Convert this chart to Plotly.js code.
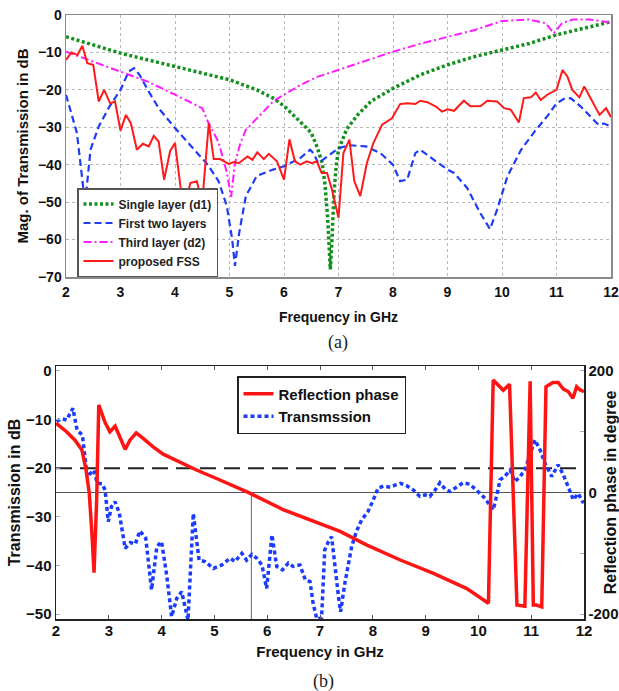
<!DOCTYPE html>
<html>
<head>
<meta charset="utf-8">
<script src="https://cdn.plot.ly/plotly-3.0.1.min.js"></script>
<style>html,body{margin:0;padding:0;background:#fff;}#chart{width:619px;height:691px;}</style>
</head>
<body>
<div id="chart"></div>
<script>
// ---------- (a) Magnitude of transmission ----------
const freqSingle = [2, 2.5, 3, 3.5, 4, 4.5, 5, 5.5, 5.8, 6, 6.2, 6.4, 6.5, 6.6, 6.7, 6.75, 6.8, 6.85, 6.88, 6.92, 6.96, 7.0, 7.15, 7.35, 7.6, 8, 8.5, 9, 9.5, 10, 10.5, 11, 11.5, 12];
const singleLayer = [-5.8, -8.0, -10.2, -12.0, -13.8, -15.6, -17.3, -20.0, -22.2, -24.3, -27.0, -30.0, -31.5, -35.0, -39.5, -45, -54, -68, -60, -47, -40, -36, -30.5, -26.7, -23, -19.6, -16, -13.3, -11.1, -9.3, -7.6, -5.3, -3.6, -1.8];

const freqTwo = [2, 2.2, 2.35, 2.45, 2.6, 2.8, 3.0, 3.15, 3.25, 3.35, 3.5, 3.7, 4.0, 4.3, 4.6, 4.8, 4.95, 5.05, 5.1, 5.18, 5.3, 5.5, 5.8, 6, 6.3, 6.48, 6.54, 6.63, 6.79, 7, 7.2, 7.5, 7.77, 8, 8.13, 8.26, 8.41, 8.5, 8.75, 9, 9.12, 9.36, 9.6, 9.78, 9.91, 10.1, 10.35, 10.6, 10.85, 11, 11.14, 11.26, 11.44, 11.62, 11.77, 11.87, 12];
const twoLayers = [-21.3, -31.5, -50.4, -36, -29.8, -24.4, -20, -15.1, -14.2, -16, -20, -24.9, -30.2, -35.1, -40, -44.4, -51, -60, -67, -58, -48.4, -43, -41.3, -40.4, -38.2, -36, -36.9, -39.6, -37.8, -35.6, -34.8, -35.1, -36.9, -40, -44.4, -44, -36.9, -36, -38.7, -41.3, -42.2, -46.2, -52.9, -57.2, -52, -43.1, -36, -31.1, -26.7, -23.6, -22.4, -22.2, -24.4, -27.1, -29.3, -29, -29.8];

const freqThird = [2, 2.5, 3, 3.5, 4, 4.5, 4.6, 4.8, 4.95, 5.03, 5.1, 5.2, 5.3, 5.5, 5.8, 6, 6.3, 6.6, 7, 7.5, 8, 8.5, 9, 9.5, 10, 10.5, 10.8, 10.95, 11.1, 11.3, 11.6, 12];
const thirdLayer = [-9.8, -12.5, -15.1, -17.8, -21.3, -24.9, -28.4, -34, -42, -48.6, -39.6, -34.2, -30.7, -27.6, -23.1, -21.3, -18.7, -16.6, -14.7, -12.2, -9.8, -7.7, -5.8, -4, -1.6, -1.2, -2.2, -4.9, -2.2, -1.2, -1.2, -2];

const freqFSS = [2.0, 2.1, 2.21, 2.3, 2.39, 2.5, 2.6, 2.7, 2.81, 2.9, 3.0, 3.1, 3.19, 3.3, 3.41, 3.52, 3.61, 3.7, 3.8, 3.91, 4.0, 4.1, 4.19, 4.28, 4.4, 4.5, 4.62, 4.71, 4.83, 4.98, 5.08, 5.17, 5.33, 5.42, 5.51, 5.63, 5.72, 5.87, 6.0, 6.1, 6.2, 6.3, 6.42, 6.51, 6.6, 6.69, 6.79, 6.88, 7.0, 7.09, 7.2, 7.29, 7.4, 7.52, 7.64, 7.8, 7.98, 8.13, 8.26, 8.41, 8.5, 8.63, 8.78, 8.9, 9.0, 9.12, 9.3, 9.42, 9.61, 9.73, 9.91, 10.04, 10.16, 10.31, 10.4, 10.53, 10.62, 10.71, 10.83, 11.0, 11.11, 11.2, 11.29, 11.42, 11.51, 11.63, 11.79, 11.91, 12.0];
const proposedFSS = [-12, -10, -10.7, -8.2, -12.9, -13.3, -23.1, -20, -23.6, -23.1, -30.9, -26.7, -28.9, -36, -34.4, -35.1, -32.3, -33.8, -44, -36.4, -34.2, -45.8, -50.7, -44.9, -44.4, -50, -28.9, -38.5, -38.5, -39.8, -39.3, -39.6, -37.8, -38.7, -36.7, -38.5, -37.1, -39.1, -44, -33.2, -39.1, -40, -39.1, -39.6, -39.1, -42.2, -42.2, -46.7, -54.2, -36.9, -33.3, -44.4, -48.4, -39.6, -34.2, -29.3, -27.6, -23.8, -23.6, -23.8, -22.9, -23.3, -24.4, -25.8, -25.2, -25.6, -22.9, -24.4, -24.3, -22.9, -23.1, -24.9, -25.3, -28.7, -22.2, -22, -20.7, -22.7, -21.3, -20, -14.7, -16.4, -20, -22, -19.1, -22.2, -26.7, -24.9, -27.3];

// ---------- (b) Transmission and reflection phase ----------
const freqTrans = [2.01, 2.11, 2.2, 2.32, 2.4, 2.5, 2.59, 2.66, 2.72, 2.78, 2.87, 2.93, 2.99, 3.05, 3.12, 3.2, 3.31, 3.41, 3.5, 3.59, 3.7, 3.81, 3.91, 4.0, 4.1, 4.19, 4.29, 4.38, 4.5, 4.6, 4.71, 4.82, 4.98, 5.14, 5.3, 5.39, 5.52, 5.61, 5.71, 5.8, 5.9, 5.99, 6.09, 6.18, 6.29, 6.4, 6.49, 6.62, 6.72, 6.81, 6.87, 6.94, 7.03, 7.09, 7.16, 7.22, 7.28, 7.35, 7.39, 7.47, 7.6, 7.69, 7.79, 7.91, 8.01, 8.1, 8.2, 8.33, 8.42, 8.52, 8.64, 8.77, 8.89, 8.99, 9.08, 9.18, 9.27, 9.37, 9.46, 9.59, 9.71, 9.84, 9.97, 10.09, 10.19, 10.28, 10.35, 10.41, 10.5, 10.6, 10.69, 10.79, 10.88, 10.98, 11.07, 11.17, 11.26, 11.39, 11.51, 11.61, 11.7, 11.8, 11.89, 11.99];
const transmission = [-10.4, -9.8, -10.1, -7.7, -12.2, -13.2, -21.7, -21.1, -20.4, -23.1, -23.2, -24.5, -31, -27.9, -26.9, -29.3, -36.5, -35.3, -35.6, -32.9, -34.4, -45, -36.1, -35.1, -42.3, -50.5, -46.7, -45.4, -51.2, -29.3, -38.9, -39.2, -40.6, -39.9, -38.5, -39.2, -37.5, -38.9, -37.7, -38.5, -39.9, -44.7, -33.7, -40.2, -40.9, -39.5, -40.2, -39.9, -42.9, -43.3, -47.8, -51, -50.8, -36.8, -35.1, -34.1, -40.2, -46.4, -49.5, -43.7, -36.1, -33, -30.6, -28.9, -26.5, -24.1, -23.7, -23.9, -23.5, -23.1, -23.6, -24.5, -25.8, -25.5, -25.8, -24.5, -23, -24.3, -24.8, -23.8, -23, -23.3, -24.5, -25.8, -27.2, -28.6, -25.5, -22.4, -21.7, -20.4, -22.8, -21.7, -20.4, -17.3, -14.2, -16.3, -19, -21.7, -19.3, -21.4, -23.8, -26.5, -25.2, -27.2];

const freqPhase = [2.0, 2.2, 2.36, 2.49, 2.57, 2.63, 2.68, 2.72, 2.77, 2.81, 2.93, 3.02, 3.12, 3.21, 3.31, 3.4, 3.52, 3.65, 3.84, 4.03, 4.35, 4.66, 5.04, 5.67, 6.3, 6.97, 7.38, 7.88, 8.52, 9.15, 9.78, 10.19, 10.28, 10.47, 10.59, 10.73, 10.88, 10.98, 11.04, 11.1, 11.2, 11.28, 11.41, 11.51, 11.61, 11.7, 11.79, 11.86, 11.92, 12.0];
const reflectionPhase = [114, 100, 86, 70, 37, -1, -67, -132, -12, 144, 115, 100, 109, 92, 71, 86, 98, 89, 75, 63, 49, 37, 23, -1, -28, -51, -64, -86, -111, -133, -158, -182, 185, 168, 178, -185, -187, 183, -185, -185, -188, 174, 181, 181, 170, 166, 155, 174, 169, 166];

// reference lines in (b)
const levelDashed = -20;      // dB, dashed threshold
const levelPhaseZero = -25;   // dB level where phase = 0
const markerFreq = 5.7;       // GHz, where phase crosses 0

const tickFreq = [2, 3, 4, 5, 6, 7, 8, 9, 10, 11, 12];
const tickMagA = [0, -10, -20, -30, -40, -50, -60, -70];
const tickMagB = [0, -10, -20, -30, -40, -50];
const tickPhase = [-200, -100, 0, 100, 200];
const tickPhaseText = ['-200', '', '0', '', '200'];

const W = 619, H = 691;
const FONT = 'Liberation Sans, Arial, sans-serif';
const SERIF = 'Liberation Serif, Times New Roman, serif';

const traces = [
  {x: freqSingle, y: singleLayer, name: 'Single layer (d1)', mode: 'lines', xaxis: 'x', yaxis: 'y',
   line: {color: '#14901e', width: 3.5, dash: '3px,2.5px'}, legend: 'legend'},
  {x: freqTwo, y: twoLayers, name: 'First two layers', mode: 'lines', xaxis: 'x', yaxis: 'y',
   line: {color: '#1f3cf5', width: 2.2, dash: '7px,4px'}, legend: 'legend'},
  {x: freqThird, y: thirdLayer, name: 'Third layer (d2)', mode: 'lines', xaxis: 'x', yaxis: 'y',
   line: {color: '#ff1aff', width: 2, dash: '8px,3px,2px,3px'}, legend: 'legend'},
  {x: freqFSS, y: proposedFSS, name: 'proposed FSS', mode: 'lines', xaxis: 'x', yaxis: 'y',
   line: {color: '#ff1a1a', width: 2}, legend: 'legend'},
  {x: freqPhase, y: reflectionPhase, name: 'Reflection phase', mode: 'lines', xaxis: 'x2', yaxis: 'y3',
   line: {color: '#ff1414', width: 3.5}, legend: 'legend2'},
  {x: freqTrans, y: transmission, name: 'Transmssion', mode: 'lines', xaxis: 'x2', yaxis: 'y2',
   line: {color: '#1a3cff', width: 3.5, dash: '4px,3px'}, legend: 'legend2'}
];

const layout = {
  width: W, height: H,
  margin: {l: 0, r: 0, t: 0, b: 0},
  paper_bgcolor: '#ffffff', plot_bgcolor: '#ffffff',
  font: {family: FONT, color: '#111', size: 13, weight: 'bold'},
  xaxis: {
    domain: [66 / W, 611 / W], anchor: 'y', range: [2, 12], tickvals: tickFreq,
    showgrid: true, gridcolor: '#b8b8b8', griddash: 'dot', gridwidth: 1,
    showline: true, mirror: true, linecolor: '#8a8a8a', linewidth: 1.5, zeroline: false,
    ticks: '', ticklabelstandoff: 2, tickfont: {size: 14, family: FONT, weight: 'bold'},
    title: {text: 'Frequency in GHz', standoff: 13, font: {size: 14, family: FONT, weight: 'bold'}}
  },
  yaxis: {
    domain: [1 - 277 / H, 1 - 15 / H], anchor: 'x', range: [-70, 0], tickvals: tickMagA,
    showgrid: true, gridcolor: '#b8b8b8', griddash: 'dot', gridwidth: 1,
    showline: true, mirror: true, linecolor: '#8a8a8a', linewidth: 1.5, zeroline: false,
    ticks: '', tickfont: {size: 14, family: FONT, weight: 'bold'},
    title: {text: 'Mag. of Transmission in dB', standoff: 5, font: {size: 15, family: FONT, weight: 'bold'}}
  },
  xaxis2: {
    domain: [56 / W, 584 / W], anchor: 'y2', range: [2, 12], tickvals: tickFreq,
    showgrid: false, showline: true, mirror: 'ticks', linecolor: '#222', linewidth: 1.5, zeroline: false,
    ticks: 'inside', ticklen: 4, tickcolor: '#555', ticklabelstandoff: -3,
    tickfont: {size: 15, family: FONT, weight: 'bold'},
    title: {text: 'Frequency in GHz', standoff: 9, font: {size: 15, family: FONT, weight: 'bold'}}
  },
  yaxis2: {
    domain: [1 - 619 / H, 1 - 366 / H], anchor: 'x2', range: [-51, 1], tickvals: tickMagB,
    showgrid: false, showline: true, linecolor: '#222', linewidth: 1.5, zeroline: false,
    ticks: 'inside', ticklen: 4, tickcolor: '#aab', tickfont: {size: 15, family: FONT, weight: 'bold'},
    title: {text: 'Transmission in dB', standoff: 1, font: {size: 16, family: FONT, weight: 'bold'}}
  },
  yaxis3: {
    overlaying: 'y2', anchor: 'x2', side: 'right', range: [-208, 208],
    tickvals: tickPhase, ticktext: tickPhaseText,
    showgrid: false, showline: true, linecolor: '#222', linewidth: 1.5, zeroline: false,
    ticks: 'inside', ticklen: 4, tickcolor: '#aab', tickfont: {size: 15, family: FONT, weight: 'bold'},
    title: {text: 'Reflection phase in degree', standoff: 0, font: {size: 16, family: FONT, weight: 'bold'}}
  },
  legend: {
    x: 77 / W, y: 1 - 277 / H, xanchor: 'left', yanchor: 'bottom', itemwidth: 30,
    bgcolor: '#ffffff', bordercolor: '#555', borderwidth: 1.5,
    font: {size: 12, family: FONT, weight: 'bold', color: '#222'}, tracegroupgap: 0
  },
  legend2: {
    x: 237 / W, y: 1 - 376 / H, xanchor: 'left', yanchor: 'top', itemwidth: 30,
    bgcolor: '#ffffff', bordercolor: '#222', borderwidth: 1.5,
    font: {size: 15, family: FONT, weight: 'bold', color: '#111'}, tracegroupgap: 0
  },
  shapes: [
    {type: 'line', xref: 'x2', yref: 'y2', x0: 2, x1: 12, y0: levelDashed, y1: levelDashed,
     line: {color: '#222', width: 2, dash: '16px,8px'}, layer: 'below'},
    {type: 'line', xref: 'x2', yref: 'y2', x0: 2, x1: 12, y0: levelPhaseZero, y1: levelPhaseZero,
     line: {color: '#555', width: 1}, layer: 'below'},
    {type: 'line', xref: 'x2', yref: 'y2', x0: markerFreq, x1: markerFreq, y0: -51, y1: levelPhaseZero,
     line: {color: '#666', width: 1}, layer: 'below'}
  ],
  annotations: [
    {text: '(a)', xref: 'paper', yref: 'paper', x: 338 / W, y: 1 - 342 / H, xanchor: 'center', yanchor: 'middle',
     showarrow: false, font: {family: SERIF, size: 18, color: '#222', weight: 'normal'}},
    {text: '(b)', xref: 'paper', yref: 'paper', x: 323 / W, y: 1 - 681 / H, xanchor: 'center', yanchor: 'middle',
     showarrow: false, font: {family: SERIF, size: 18, color: '#222', weight: 'normal'}}
  ]
};

Plotly.newPlot('chart', traces, layout, {staticPlot: true, displayModeBar: false});
</script>
</body>
</html>
